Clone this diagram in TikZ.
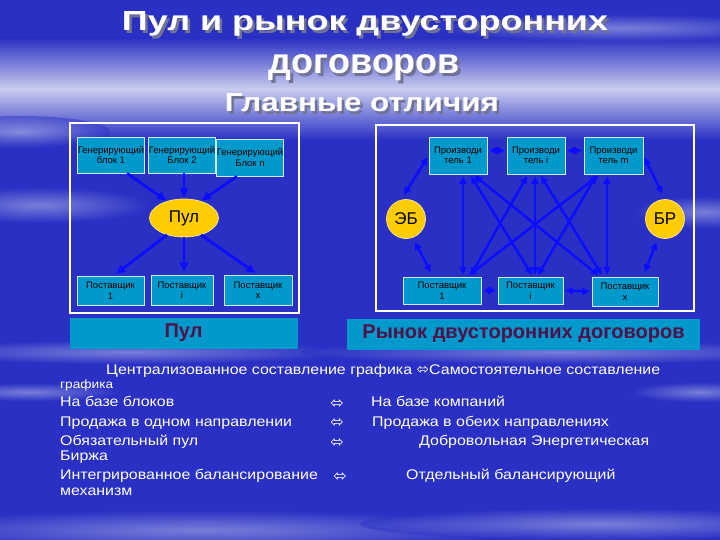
\documentclass[tikz,border=0pt]{standalone}
\usepackage{fontspec}
\setmainfont{Liberation Sans}
\newfontfamily\bodyfont{Liberation Sans}[FakeStretch=1.14]
\newfontfamily\symfont{DejaVu Sans}
\usetikzlibrary{arrows.meta,shapes.geometric,positioning}

\definecolor{bgblue}{RGB}{42,48,196}
\definecolor{haze}{RGB}{200,204,238}
\definecolor{boxcyan}{RGB}{0,153,204}
\definecolor{gold}{RGB}{255,204,0}
\definecolor{arrblue}{RGB}{12,12,255}
\definecolor{plum}{RGB}{82,16,74}
\definecolor{titleshadow}{RGB}{112,114,150}

\tikzset{
  frame/.style={draw=white, line width=2.8pt},
  unit/.style={draw=white!80!boxcyan, line width=0.7pt, fill=boxcyan, align=center,
    inner sep=0pt, text=black, font=\fontsize{9.5}{10.5}\selectfont},
  hub/.style={fill=gold, draw=white!55!gold, line width=0.7pt, inner sep=0pt,
    font=\fontsize{17}{17}\selectfont},
  caption/.style={fill=boxcyan, text=plum, inner sep=0pt, font=\bfseries\fontsize{20}{20}\selectfont},
  feed/.style={-{Triangle[length=9pt,width=8pt]}, draw=arrblue, line width=2.8pt, shorten >=1pt},
  link/.style={{Triangle[length=7.5pt,width=7pt]}-{Triangle[length=7.5pt,width=7pt]},
    draw=arrblue, line width=2.5pt, shorten <=2pt, shorten >=2pt},
  note/.style={anchor=mid west, inner sep=0pt, text=white, font=\bodyfont\fontsize{14}{16}\selectfont},
  swap/.style={inner sep=0pt, text=white, font=\symfont\fontsize{16}{16}\selectfont},
  heading/.style={anchor=base, inner sep=0pt, text=white, font=\bfseries},
  headshade/.style={anchor=base, inner sep=0pt, text=titleshadow, font=\bfseries}
}

\begin{document}
\begin{tikzpicture}[x=1pt, y=-1pt]
  \useasboundingbox (0,0) rectangle (720,540);

  % background with light streaks
  \fill[bgblue] (0,0) rectangle (720,540);
  \shade[top color=bgblue, bottom color=bgblue, middle color=haze] (0,38) rectangle (720,140);
  \foreach \cx/\cy/\rx/\ry in {40/205/110/18, 705/212/70/16, 130/352/220/12, 560/352/260/12,
      30/392/90/9, 700/392/70/10, 200/530/320/20, 600/524/240/16, 620/28/180/14, 20/132/90/16}
    \shade[inner color=haze, outer color=bgblue, opacity=0.5] (\cx,\cy) ellipse [x radius=\rx, y radius=\ry];

  % title
  \node[headshade] (head1s) at (367.5,33.5) {\resizebox{486pt}{19pt}{Пул и рынок двусторонних}};
  \node[heading] (head1) at (365,31) {\resizebox{486pt}{19pt}{Пул и рынок двусторонних}};
  \node[headshade] (head2s) at (367,76.5) {\resizebox{191pt}{19pt}{договоров}};
  \node[heading] (head2) at (364.5,74) {\resizebox{191pt}{19pt}{договоров}};
  \node[headshade] (head3s) at (364.5,114.5) {\resizebox{274pt}{18pt}{Главные отличия}};
  \node[heading] (head3) at (362,112) {\resizebox{274pt}{18pt}{Главные отличия}};

  % pool
  \draw[frame] (70,123) rectangle (299,313);
  \node[unit, minimum width=64pt, minimum height=36pt] (gen1) at (111,155) {Генерирующий\\блок 1};
  \node[unit, minimum width=62pt, minimum height=36pt] (gen2) at (182,155) {Генерирующий\\Блок 2};
  \node[unit, minimum width=64pt, minimum height=37pt] (genn) at (250,157.5) {Генерирующий\\Блок n};
  \node[hub, ellipse, minimum width=69pt, minimum height=38pt] (pool) at (184,218) {Пул};
  \node[unit, minimum width=67pt, minimum height=29pt] (sup1) at (110.5,290.5) {Поставщик\\1};
  \node[unit, minimum width=62pt, minimum height=30pt] (supi) at (182,290) {Поставщик\\i};
  \node[unit, minimum width=68pt, minimum height=30pt] (supx) at (258,290) {Поставщик\\x};

  \draw[feed] ([xshift=16pt]gen1.south) -- (pool.135);
  \draw[feed] (gen2.south -| pool.north) -- (pool.north);
  \draw[feed] ([xshift=-13pt]genn.south) -- (pool.45);
  \draw[feed, shorten >=3pt] (pool.225) -- ([xshift=3pt]sup1.north);
  \draw[feed, shorten >=3pt] (pool.south) -- (pool.south |- supi.north);
  \draw[feed, shorten >=3pt] (pool.315) -- (supx.north);

  % bilateral market
  \draw[frame] (376,125) rectangle (694,311);
  \node[unit, minimum width=58pt, minimum height=37pt] (prod1) at (458,155.5) {Производи\\тель 1};
  \node[unit, minimum width=58pt, minimum height=37pt] (prodi) at (536,155.5) {Производи\\тель i};
  \node[unit, minimum width=59pt, minimum height=37pt] (prodm) at (613.5,155.5) {Производи\\тель m};
  \node[hub, circle, minimum size=39pt] (eb) at (406,219) {ЭБ};
  \node[hub, circle, minimum size=39pt] (br) at (665,219) {БР};
  \node[unit, minimum width=78pt, minimum height=27pt] (vend1) at (442,290.5) {Поставщик\\1};
  \node[unit, minimum width=65pt, minimum height=27pt] (vendi) at (530.5,290.5) {Поставщик\\i};
  \node[unit, minimum width=66pt, minimum height=29pt] (vendx) at (625,291.5) {Поставщик\\x};

  \draw[link] ([yshift=5pt]prod1.east) -- ([yshift=5pt]prodi.west);
  \draw[link] ([yshift=5pt]prodi.east) -- ([yshift=5pt]prodm.west);
  \draw[link] (vend1.east) -- (vendi.west);
  \draw[link] (vendi.east) -- (vendx.west);
  \draw[link, shorten <=6pt] (eb.105) -- (prod1.west);
  \draw[link, shorten <=5pt, shorten >=5pt] (eb.-70) -- ([xshift=-9pt]vend1.north);
  \draw[link, shorten >=6pt] (prodm.east) -- (br.north);
  \draw[link, shorten <=5pt, shorten >=5pt] (br.-110) -- ([xshift=18pt]vendx.north);
  \foreach \src/\sx/\dst/\dx in {prod1/5/vend1/21, prod1/12/vendi/2.5, prod1/15/vendx/-25,
      prodi/-1/vendi/4.5, prodi/-8/vend1/28, prodi/4/vendx/-22,
      prodm/-6.5/vendx/-18, prodm/-13.5/vend1/25, prodm/-16.5/vendi/6.5}
    \draw[link] ([xshift=\sx pt]\src.south) -- ([xshift=\dx pt]\dst.north);

  % captions
  \node[caption, minimum width=228pt, minimum height=31pt] (poolcap) at (183.5,333) {Пул};
  \node[caption, minimum width=353pt, minimum height=31pt] (marketcap) at (523.5,334) {Рынок двусторонних договоров};

  % comparison
  \node[note] (row0) at (106,372) {Централизованное составление графика {\symfont\fontsize{15}{15}\selectfont ⬄}Самостоятельное составление};
  \node[note, font=\bodyfont\fontsize{12}{13}\selectfont] (row0b) at (60,386) {графика};
  \node[note] (row1a) at (60,404) {На базе блоков};
  \node[swap] (row1s) at (337,404) {⬄};
  \node[note] (row1b) at (371,404) {На базе компаний};
  \node[note] (row2a) at (60,423.5) {Продажа в одном направлении};
  \node[swap] (row2s) at (337,423.5) {⬄};
  \node[note] (row2b) at (372,423.5) {Продажа в обеих направлениях};
  \node[note] (row3a) at (60,443) {Обязательный пул};
  \node[swap] (row3s) at (337,443) {⬄};
  \node[note] (row3b) at (419,443) {Добровольная Энергетическая};
  \node[note] (row3c) at (60,458) {Биржа};
  \node[note] (row4a) at (60,477) {Интегрированное балансирование};
  \node[swap] (row4s) at (340,477) {⬄};
  \node[note] (row4b) at (406,477) {Отдельный балансирующий};
  \node[note] (row4c) at (60,493) {механизм};
\end{tikzpicture}
\end{document}
